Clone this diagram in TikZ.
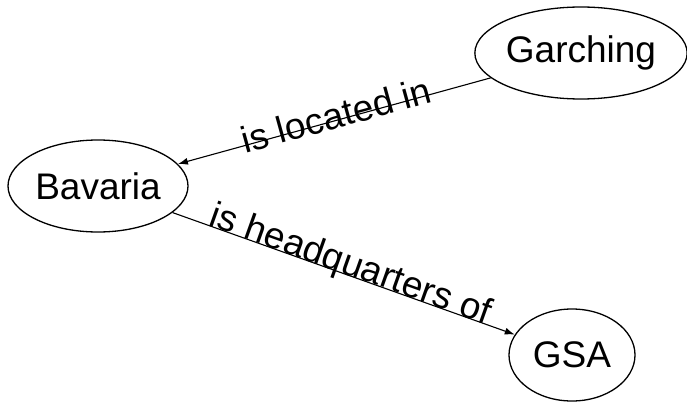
\documentclass[tikz,border=0pt]{standalone}
\usepackage{fontspec}
\setmainfont{Liberation Sans}
\usetikzlibrary{shapes.geometric,arrows.meta}

\begin{document}
\begin{tikzpicture}[x=1pt, y=-1pt,
    entity/.style={ellipse, draw, line width=1.3pt, fill=white, inner sep=0pt,
      minimum height=92pt, font=\fontsize{37}{42}\selectfont},
    relation/.style={-{Latex[length=10pt,width=7pt]}, line width=1.1pt},
    rellabel/.style={sloped, inner sep=0pt, anchor=base,
      font=\fontsize{37}{42}\selectfont}]
  \useasboundingbox (0,0) rectangle (687,401);
  \node[entity, minimum width=206pt] (garching) at (581,53) {Garching};
  \node[entity, minimum width=180pt] (bavaria) at (98,186) {Bavaria};
  \node[entity, minimum width=126pt] (gsa) at (572,355) {GSA};
  \draw[relation] (garching) -- node[rellabel, pos=0.49] {\raisebox{-8pt}{is located in}} (bavaria);
  \draw[relation] (bavaria) -- node[rellabel, pos=0.51] {is headquarters of} (gsa);
\end{tikzpicture}
\end{document}
